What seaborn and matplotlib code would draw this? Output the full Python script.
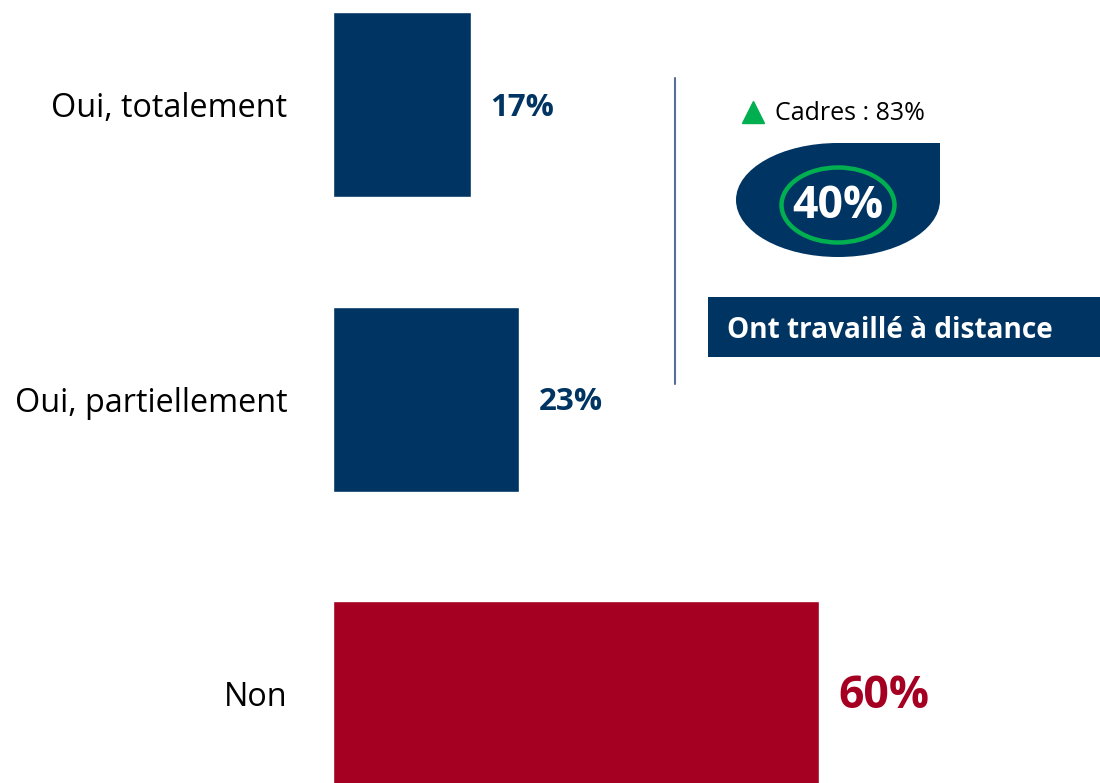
import matplotlib
matplotlib.use('Agg')
import matplotlib.pyplot as plt
import seaborn as sns
from matplotlib.path import Path
from matplotlib.patches import PathPatch, Ellipse, Rectangle

# data
categories = ["Oui, totalement", "Oui, partiellement", "Non"]
values = [17, 23, 60]
total_remote = 40
cadres_share = 83
remote_label = "Ont travaillé à distance"

NAVY = "#003462"
RED = "#A50021"
GREEN = "#00B050"
colors = [NAVY, NAVY, RED]

sns.set_theme(style="white")
plt.rcParams['font.family'] = ['Open Sans', 'DejaVu Sans']

fig = plt.figure(figsize=(11, 7.83), dpi=100)
W, H = 1100, 783
px = 8.1  # pixels per percent

ax = fig.add_axes([333 / W, 0, (W - 333) / W, 1])
sns.barplot(x=values, y=categories, hue=categories, palette=colors,
            orient='h', width=0.628, legend=False, saturation=1, ax=ax)
ax.set_xlim(0, (W - 333) / px)
ax.set_ylim(2 + (783 - 694) / 294.5, -104.5 / 294.5)
for s in ax.spines.values():
    s.set_visible(False)
ax.set_xticks([])
ax.set_xlabel("")
ax.set_ylabel("")
ax.tick_params(axis='y', length=0, pad=33, labelsize=23.3, labelcolor="black")

for i, v in enumerate(values):
    big = v == max(values)
    ax.text(v + 2.4, i + 0.01, f"{v}%", va='center', ha='left',
            fontsize=32 if big else 22.5, fontweight='bold', color=colors[i])

# overlay in pixel coords for the callout
ov = fig.add_axes([0, 0, 1, 1], facecolor='none')
ov.set_xlim(0, W)
ov.set_ylim(H, 0)
ov.axis('off')

ov.plot([675, 675], [78, 384], color="#5A6E9A", lw=1.5)

ov.plot([753], [112], marker='^', color=GREEN, markersize=16, mec=GREEN)
ov.text(775, 113, f"Cadres : {cadres_share}%", va='center', ha='left',
        fontsize=18, color="black")

# leaf shape: ellipse with square top-right corner
cx, cy, rx, ry = 838, 200, 102, 57
k = 0.5523
verts = [
    (cx + rx, cy - ry),  # top-right corner
    (cx + rx, cy),
    (cx + rx, cy + k * ry), (cx + k * rx, cy + ry), (cx, cy + ry),
    (cx - k * rx, cy + ry), (cx - rx, cy + k * ry), (cx - rx, cy),
    (cx - rx, cy - k * ry), (cx - k * rx, cy - ry), (cx, cy - ry),
    (cx + rx, cy - ry),
]
codes = [Path.MOVETO, Path.LINETO,
         Path.CURVE4, Path.CURVE4, Path.CURVE4,
         Path.CURVE4, Path.CURVE4, Path.CURVE4,
         Path.CURVE4, Path.CURVE4, Path.CURVE4,
         Path.CLOSEPOLY]
ov.add_patch(PathPatch(Path(verts, codes), facecolor=NAVY, edgecolor='none'))
ov.add_patch(Ellipse((838, 205), 113, 75, facecolor='none', edgecolor=GREEN, lw=3.2))
ov.text(838, 206, f"{total_remote}%", ha='center', va='center',
        fontsize=32, fontweight='bold', color='white')

ov.add_patch(Rectangle((708, 297), 400, 60, facecolor=NAVY, edgecolor='none'))
ov.text(727, 330, remote_label, ha='left', va='center',
        fontsize=20.2, fontweight='bold', color='white')

fig.savefig("out.png", dpi=100)
